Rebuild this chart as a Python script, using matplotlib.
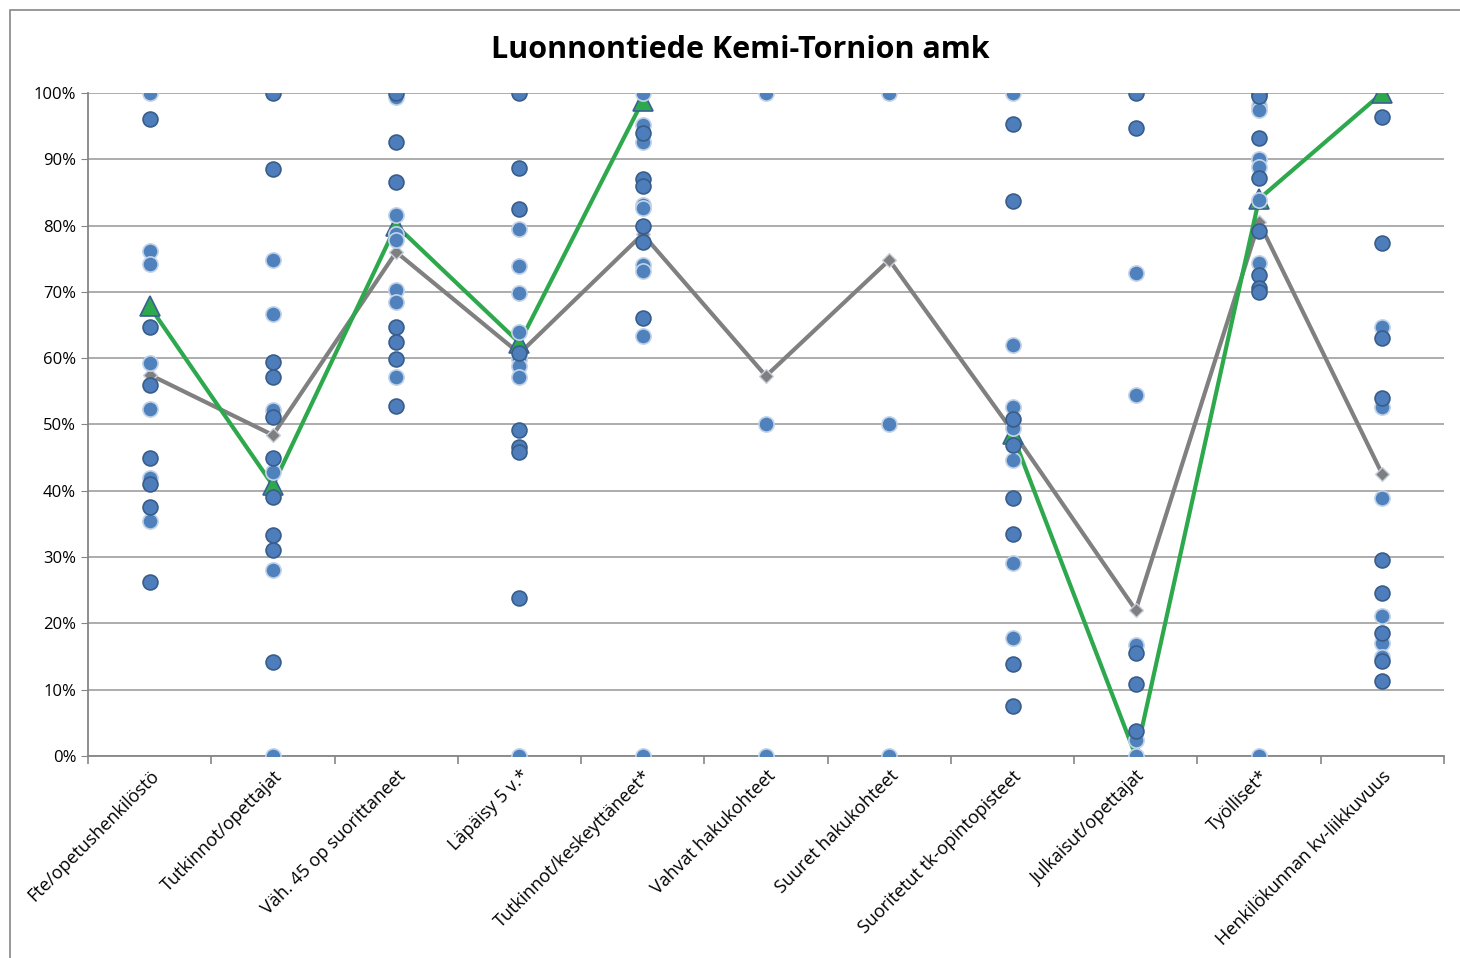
import numpy as np
import matplotlib.pyplot as plt
from matplotlib.ticker import FuncFormatter, FixedLocator
from matplotlib.patches import Rectangle

categories = [
    "Fte/opetushenkilöstö",
    "Tutkinnot/opettajat",
    "Väh. 45 op suorittaneet",
    "Läpäisy 5 v.*",
    "Tutkinnot/keskeyttäneet*",
    "Vahvat hakukohteet",
    "Suuret hakukohteet",
    "Suoritetut tk-opintopisteet",
    "Julkaisut/opettajat",
    "Työlliset*",
    "Henkilökunnan kv-liikkuvuus",
]

# other units, dots with darker outline (percent)
others_dark = [
    [96.0, 64.7, 56.0, 45.0, 41.0, 37.5, 26.2],
    [100.0, 88.5, 59.4, 57.2, 51.1, 45.0, 39.1, 33.4, 31.1, 14.2],
    [100.0, 92.6, 86.5, 64.7, 62.5, 59.9, 52.8],
    [100.0, 88.7, 82.5, 60.8, 49.2, 46.6, 45.9, 23.8],
    [94.0, 87.0, 85.9, 80.0, 77.5, 66.1],
    [],
    [],
    [95.3, 83.7, 50.8, 46.9, 38.9, 33.5, 13.9, 7.5],
    [100.0, 94.7, 15.5, 10.9, 3.7],
    [99.8, 99.5, 93.2, 87.2, 79.2, 72.5, 70.6, 70.0],
    [96.4, 77.4, 63.0, 54.0, 29.6, 24.6, 18.6, 14.3, 11.3],
]

# other units, dots with lighter outline (percent)
others_light = [
    [100.0, 76.2, 74.2, 59.3, 52.3, 41.9, 35.4],
    [74.8, 66.7, 52.2, 42.9, 28.1, 0.0],
    [99.4, 81.6, 78.7, 77.8, 70.3, 68.5, 57.2],
    [79.5, 73.9, 69.8, 64.0, 59.9, 58.8, 57.2, 0.0],
    [100.0, 95.2, 92.6, 83.1, 82.6, 74.1, 73.2, 63.4, 0.0],
    [100.0, 50.0, 0.0],
    [100.0, 50.0, 0.0],
    [100.0, 62.0, 52.6, 49.5, 44.6, 29.1, 17.8],
    [72.8, 54.4, 16.7, 2.4, 0.0],
    [98.0, 97.5, 90.0, 88.8, 83.9, 74.4, 0.0],
    [64.7, 52.7, 38.9, 21.1, 17.0, 15.0],
]

# Kemi-Tornion amk (green) and the average (gray)
kemi = [67.8, 40.8, 80.0, 62.3, 98.8, np.nan, np.nan, 48.5, 0.0, 84.0, 100.0]
average = [57.5, 48.4, 76.0, 60.7, 78.7, 57.3, 74.8, 49.0, 22.0, 80.5, 42.5]

plt.rcParams["font.family"] = ["Open Sans", "DejaVu Sans"]

fig = plt.figure(figsize=(14.6, 9.58), dpi=100)
ax = fig.add_axes([0.0603, 0.2109, 0.9287, 0.6921])

x = np.arange(len(categories))

ax.plot(x, np.array(average) / 100, color="#808080", lw=3, marker="D",
        ms=7, mfc="#7f7f7f", mec="#c8d0e0", mew=1, zorder=3)
ax.plot(x, np.array(kemi) / 100, color="#2ea84c", lw=3, marker="^",
        ms=14, mfc="#2ea84c", mec="#3a5f95", mew=1.2, zorder=3)

for i in range(len(categories)):
    vals = np.array(others_light[i]) / 100
    ax.scatter(np.full(len(vals), i), vals, s=120, color="#4f81bd",
               edgecolors="#c3d3e8", linewidths=1.2, zorder=4)
    vals = np.array(others_dark[i]) / 100
    ax.scatter(np.full(len(vals), i), vals, s=115, color="#4d7dba",
               edgecolors="#385d8a", linewidths=1.2, zorder=4)

ax.set_xlim(-0.5, len(categories) - 0.5)
ax.set_ylim(0, 1)
ax.set_yticks(np.arange(0, 1.01, 0.1))
ax.yaxis.set_major_formatter(FuncFormatter(lambda v, p: f"{v * 100:.0f}%"))
ax.tick_params(axis="y", length=5, color="#868686", labelsize=12)
ax.grid(axis="y", color="#a6a6a6", lw=1.3)
ax.set_axisbelow(True)

ax.set_xticks(x)
ax.set_xticklabels(categories, rotation=45, ha="right", va="top",
                   rotation_mode="anchor", fontsize=13)
ax.tick_params(axis="x", which="major", length=0, pad=8)
ax.xaxis.set_minor_locator(FixedLocator(np.arange(-0.5, len(categories), 1)))
ax.tick_params(axis="x", which="minor", length=6, color="#868686", width=1.2)

for side in ["top", "right"]:
    ax.spines[side].set_visible(False)
for side in ["left", "bottom"]:
    ax.spines[side].set_color("#868686")
    ax.spines[side].set_linewidth(1.3)

fig.text(0.507, 0.948, "Luonnontiede Kemi-Tornion amk", ha="center",
         va="center", fontsize=22, fontweight="bold")

fig.patches.append(Rectangle((0.007, -0.01), 1.0, 1.0, transform=fig.transFigure,
                             fill=False, edgecolor="#868686", lw=1.2))

fig.savefig("out.png", dpi=100)
